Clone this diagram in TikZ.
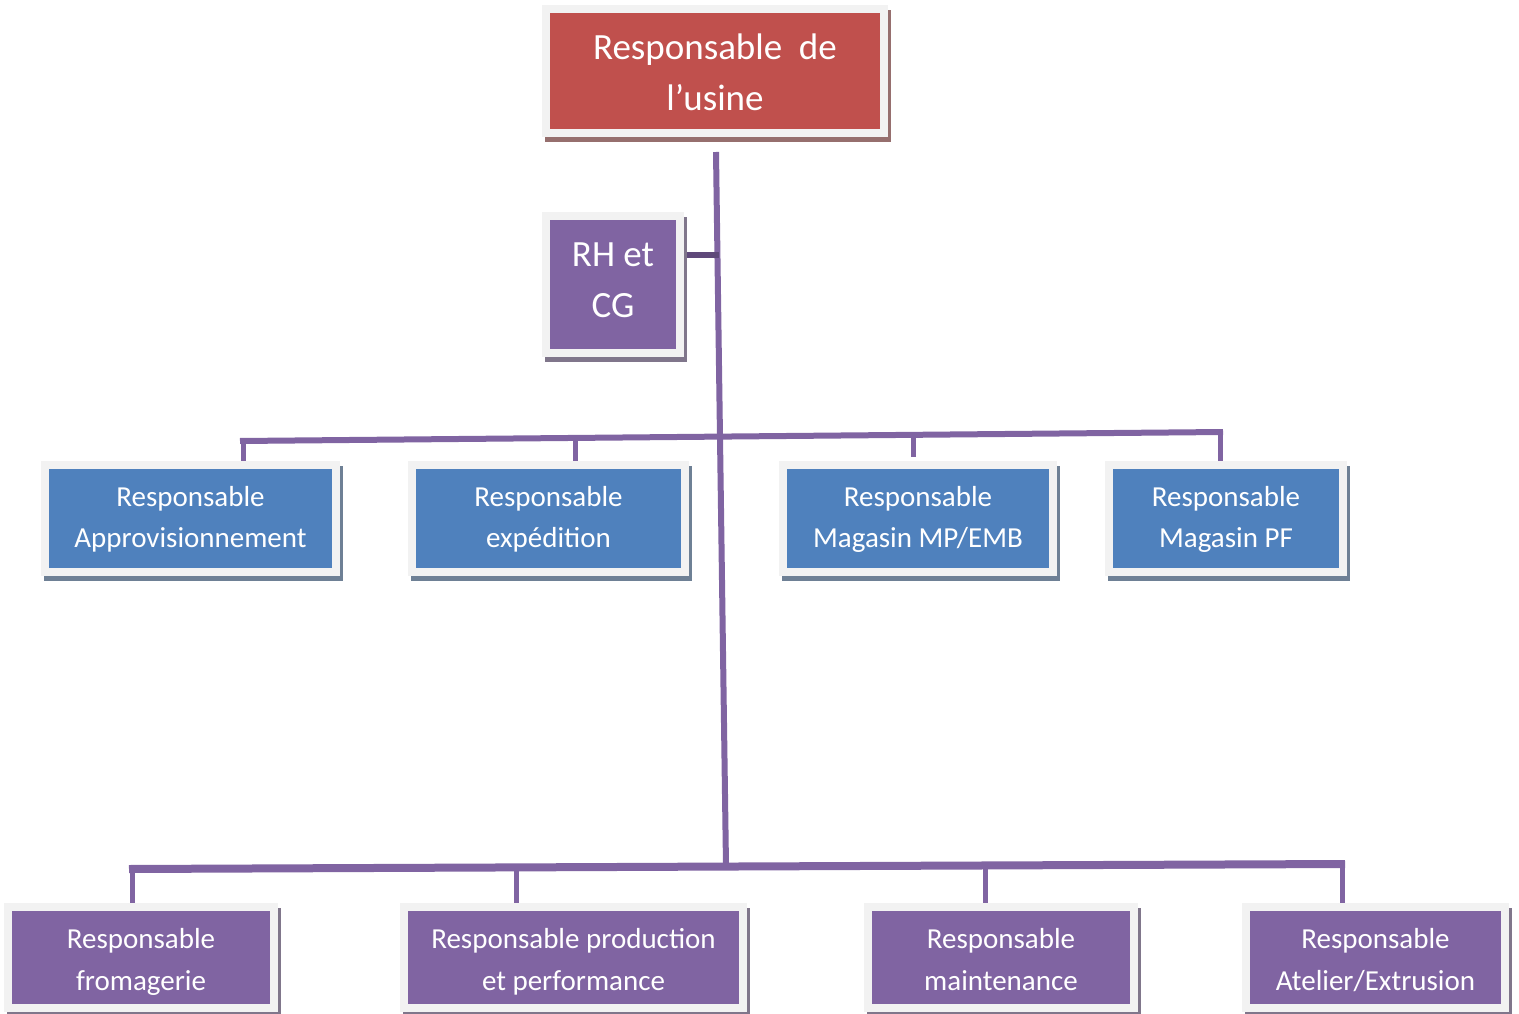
\documentclass[tikz,border=0pt]{standalone}
\usepackage{fontspec}
\setmainfont{Carlito}
\usetikzlibrary{backgrounds}
\definecolor{cRed}{HTML}{C0504D}
\definecolor{cPurple}{HTML}{8064A2}
\definecolor{cBlue}{HTML}{4F81BD}
\definecolor{cFrame}{HTML}{F2F2F2}
\definecolor{cDark}{HTML}{5F497A}
\tikzset{
  orgbox/.style={fill=#1, draw=cFrame, line width=8pt, text=white, align=center, inner sep=0pt},
  link/.style={draw=cPurple, line width=5pt},
  bigtxt/.style={font=\fontsize{37}{51}\selectfont},
  smalltxt/.style={font=\fontsize{29}{41.5}\selectfont},
}
% #1 name, #2 x1, #3 y1, #4 x2, #5 y2 (outer frame, px, y down), #6 colour, #7 text style, #8 text, #9 extra top pad (pt)
\newcommand\orgnode[9]{%
  \fill[#6!35!gray] ({#2+3},{#3+5}) rectangle ({#4+3},{#5+5});
  \node[orgbox=#6, #7, minimum width={(#4-#2-8)*1pt}, minimum height={(#5-#3-8)*1pt}]
    (#1) at ({(#2+#4)/2},{(#3+#5)/2}) {\rule{0pt}{\dimexpr0.7\baselineskip+#9pt\relax}#8\strut};
}
\begin{document}
\begin{tikzpicture}[x=1pt,y=-1pt]
\useasboundingbox (0,0) rectangle (1519,1014);

\orgnode{top}{542}{5}{888}{137}{cRed}{bigtxt}{Responsable\ \ de\\l’usine}{8}
\orgnode{rh}{542}{212}{684}{357}{cPurple}{bigtxt}{RH et\\CG}{-5}

\orgnode{a1}{41}{461}{340}{576}{cBlue}{smalltxt}{Responsable\\Approvisionnement}{0}
\orgnode{a2}{408}{461}{689}{576}{cBlue}{smalltxt}{Responsable\\expédition}{0}
\orgnode{a3}{779}{461}{1057}{576}{cBlue}{smalltxt}{Responsable\\Magasin MP/EMB}{0}
\orgnode{a4}{1105}{461}{1347}{576}{cBlue}{smalltxt}{Responsable\\Magasin PF}{0}

\orgnode{b1}{4}{903}{278}{1012}{cPurple}{smalltxt}{Responsable\\fromagerie}{7}
\orgnode{b2}{400}{903}{747}{1012}{cPurple}{smalltxt}{Responsable production\\et performance}{7}
\orgnode{b3}{864}{903}{1138}{1012}{cPurple}{smalltxt}{Responsable\\maintenance}{7}
\orgnode{b4}{1242}{903}{1509}{1012}{cPurple}{smalltxt}{Responsable\\Atelier/Extrusion}{7}

\coordinate (trTop) at (716,152);
\coordinate (trBot) at (726,866);
\coordinate (rhj) at (719,255);
\coordinate (ub1) at (243,441);
\coordinate (ub2) at (575,438);
\coordinate (ub3) at (913,435);
\coordinate (ub4) at (1220,432);
\coordinate (lb1) at (132,869);
\coordinate (lb2) at (516,868);
\coordinate (lb3) at (985,866);
\coordinate (lb4) at (1342,864);

\begin{scope}[on background layer]
  \draw[link, line width=6pt] (trTop) -- (trBot);
  \draw[draw=cDark, line width=6pt] (rhj -| rh.east) -- (rhj);
  \draw[link, line width=6pt] ([xshift=-3pt]ub1) -- ([xshift=3pt]ub4);
  \draw[link] (ub1) -- (ub1 |- a1.north);
  \draw[link] (ub2) -- (ub2 |- a2.north);
  \draw[link] (ub3) -- (913,457);
  \draw[link] (ub4) -- (ub4 |- a4.north);
  \draw[link, line width=8pt] ([xshift=-3pt]lb1) -- ([xshift=3pt]lb4);
  \draw[link] (lb1) -- (lb1 |- b1.north);
  \draw[link] (lb2) -- (lb2 |- b2.north);
  \draw[link] (lb3) -- (lb3 |- b3.north);
  \draw[link] (lb4) -- (lb4 |- b4.north);
\end{scope}
\end{tikzpicture}
\end{document}
